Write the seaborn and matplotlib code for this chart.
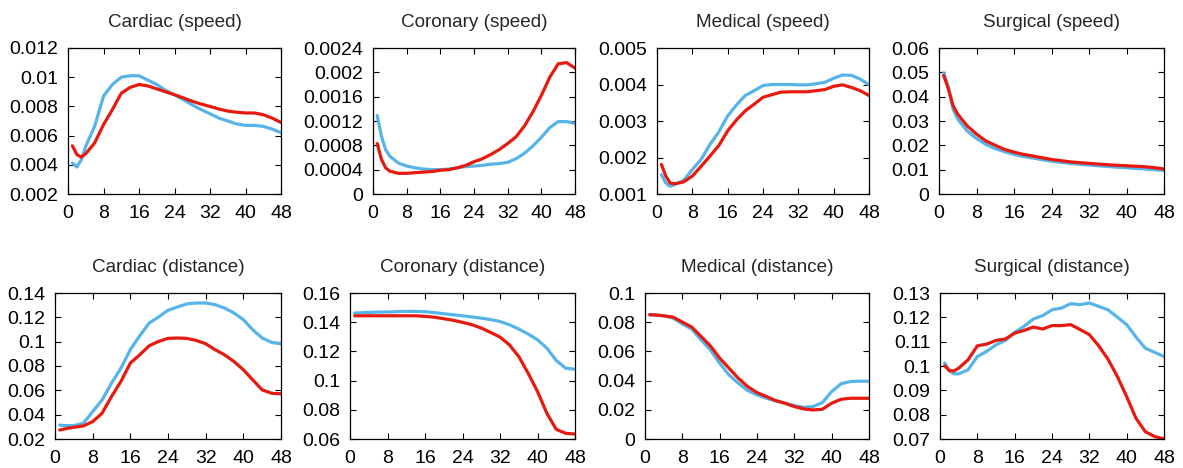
import numpy as np
import pandas as pd
import matplotlib
matplotlib.use('Agg')
import matplotlib.pyplot as plt
import seaborn as sns
from matplotlib.ticker import FuncFormatter

sns.set_style('ticks')
plt.rcParams['font.family'] = ['Liberation Sans', 'DejaVu Sans']

# hours since admission
hours = [1, 2, 3, 4, 6, 8, 10, 12, 14, 16, 18, 20, 22, 24, 26, 28, 30, 32, 34, 36, 38, 40, 42, 44, 46, 48]

cardiac_speed_blue = [0.00412, 0.00385, 0.00435, 0.00527, 0.00663, 0.0087, 0.0095, 0.0100, 0.0101, 0.0101, 0.0098, 0.0095, 0.0091,
                      0.0088, 0.00846, 0.0081, 0.00778, 0.0075, 0.0072, 0.0070, 0.0068, 0.0067, 0.0067, 0.00663, 0.00645, 0.0062]
cardiac_speed_red = [0.0053, 0.0047, 0.00453, 0.00476, 0.0055, 0.00675, 0.00778, 0.0089, 0.0093, 0.0095, 0.0094, 0.0092, 0.0090,
                     0.0088, 0.00858, 0.00835, 0.00816, 0.0080, 0.00782, 0.00768, 0.0076, 0.00755, 0.00755, 0.00743, 0.0072, 0.0069]

coronary_speed_blue = [0.00129, 0.00095, 0.00073, 0.00062, 0.00051, 0.00046, 0.00043, 0.00041, 0.0004, 0.0004, 0.00041, 0.00043, 0.00045,
                       0.00046, 0.00047, 0.00049, 0.0005, 0.00052, 0.00058, 0.00067, 0.00079, 0.00093, 0.00109, 0.00119, 0.00119, 0.00116]
coronary_speed_red = [0.00083, 0.00057, 0.00043, 0.000375, 0.00034, 0.00034, 0.00035, 0.00036, 0.00037, 0.00039, 0.0004, 0.00043, 0.00047,
                      0.00053, 0.00058, 0.00065, 0.00073, 0.00083, 0.00094, 0.00112, 0.00135, 0.00162, 0.00192, 0.00214, 0.00216, 0.00207]

medical_speed_blue = [0.00153, 0.0013, 0.00121, 0.00126, 0.00137, 0.00167, 0.00195, 0.00236, 0.0027, 0.00314, 0.00344, 0.0037, 0.00383,
                      0.00397, 0.004, 0.004, 0.004, 0.00399, 0.00399, 0.00402, 0.00406, 0.00417, 0.00426, 0.00425, 0.00415, 0.00399]
medical_speed_red = [0.00181, 0.00149, 0.0013, 0.00128, 0.00133, 0.00149, 0.00176, 0.00204, 0.00233, 0.00273, 0.00303, 0.00328, 0.00346,
                     0.00365, 0.00372, 0.00379, 0.0038, 0.0038, 0.0038, 0.00383, 0.00386, 0.00395, 0.00399, 0.00392, 0.00383, 0.0037]

surgical_speed_blue = [0.0498, 0.0439, 0.0349, 0.0308, 0.0259, 0.0228, 0.0204, 0.0186, 0.0174, 0.0163, 0.0154, 0.0148, 0.0141,
                       0.0135, 0.0130, 0.0126, 0.0122, 0.0119, 0.0116, 0.0113, 0.0110, 0.0108, 0.0105, 0.0103, 0.0100, 0.0097]
surgical_speed_red = [0.0487, 0.0432, 0.0363, 0.0328, 0.028, 0.0246, 0.0218, 0.02, 0.0183, 0.0172, 0.0163, 0.0156, 0.0149,
                      0.0142, 0.0137, 0.0132, 0.0129, 0.0126, 0.0123, 0.012, 0.0118, 0.0116, 0.0114, 0.0112, 0.0108, 0.0103]

cardiac_dist_blue = [0.0315, 0.031, 0.031, 0.031, 0.0329, 0.0425, 0.0521, 0.0659, 0.0782, 0.0934, 0.1049, 0.1153, 0.1203,
                     0.1258, 0.1285, 0.131, 0.1318, 0.1318, 0.1304, 0.1277, 0.1236, 0.1181, 0.1098, 0.103, 0.0994, 0.0983]
cardiac_dist_red = [0.0274, 0.0282, 0.029, 0.0296, 0.0307, 0.0343, 0.0412, 0.0549, 0.0673, 0.0824, 0.0892, 0.0966, 0.1002,
                    0.1027, 0.103, 0.1027, 0.101, 0.0983, 0.0934, 0.0892, 0.0837, 0.0769, 0.0686, 0.0604, 0.0576, 0.0571]

coronary_dist_blue = [0.1463, 0.1464, 0.1466, 0.1467, 0.1469, 0.147, 0.1472, 0.1474, 0.1474, 0.1472, 0.1466, 0.1458, 0.1451,
                      0.1444, 0.1436, 0.1428, 0.1418, 0.1405, 0.1383, 0.1353, 0.1319, 0.128, 0.1222, 0.1138, 0.1085, 0.1078]
coronary_dist_red = [0.1444, 0.1444, 0.1444, 0.1444, 0.1444, 0.1444, 0.1444, 0.1444, 0.1444, 0.144, 0.1434, 0.1424, 0.1413,
                     0.1399, 0.1383, 0.136, 0.133, 0.1298, 0.1245, 0.1165, 0.1051, 0.0925, 0.0776, 0.0666, 0.0639, 0.0634]

medical_dist_blue = [0.0851, 0.085, 0.0847, 0.0844, 0.0828, 0.0789, 0.0753, 0.068, 0.0611, 0.0519, 0.0439, 0.0382, 0.0332,
                     0.0302, 0.0279, 0.0261, 0.0245, 0.0229, 0.0217, 0.0222, 0.0249, 0.0325, 0.0378, 0.0394, 0.0396, 0.0396]
medical_dist_red = [0.0851, 0.085, 0.0847, 0.0844, 0.0835, 0.0801, 0.0767, 0.0703, 0.0638, 0.0554, 0.0485, 0.0416, 0.0359,
                    0.0318, 0.0291, 0.0263, 0.0245, 0.0222, 0.0206, 0.0199, 0.0204, 0.0245, 0.0272, 0.0279, 0.0279, 0.0279]

surgical_dist_blue = [0.1012, 0.0981, 0.0968, 0.0968, 0.0984, 0.1039, 0.106, 0.1087, 0.1105, 0.1138, 0.1163, 0.1193, 0.1207,
                      0.1231, 0.1238, 0.1256, 0.1252, 0.1259, 0.1245, 0.1231, 0.1201, 0.117, 0.1119, 0.1073, 0.1056, 0.1039]
surgical_dist_red = [0.1001, 0.0981, 0.098, 0.0991, 0.1025, 0.1083, 0.109, 0.1105, 0.1111, 0.1135, 0.1146, 0.116, 0.1152,
                     0.1166, 0.1166, 0.117, 0.115, 0.1129, 0.1083, 0.1028, 0.0957, 0.0874, 0.0785, 0.073, 0.071, 0.070]

titles = ['Cardiac (speed)', 'Coronary (speed)', 'Medical (speed)', 'Surgical (speed)',
          'Cardiac (distance)', 'Coronary (distance)', 'Medical (distance)', 'Surgical (distance)']
blue_series = [cardiac_speed_blue, coronary_speed_blue, medical_speed_blue, surgical_speed_blue,
               cardiac_dist_blue, coronary_dist_blue, medical_dist_blue, surgical_dist_blue]
red_series = [cardiac_speed_red, coronary_speed_red, medical_speed_red, surgical_speed_red,
              cardiac_dist_red, coronary_dist_red, medical_dist_red, surgical_dist_red]
y_ranges = [(0.002, 0.012, 0.002), (0, 0.0024, 0.0004), (0.001, 0.005, 0.001), (0, 0.06, 0.01),
            (0.02, 0.14, 0.02), (0.06, 0.16, 0.02), (0, 0.1, 0.02), (0.07, 0.13, 0.01)]

# axes boxes in pixels: left, right (row top / bottom given below)
W, H = 1183, 468
cols_px = [(68, 281), (373, 575), (657, 869), (939, 1164),
           (55, 281), (350, 575), (645, 869), (940, 1164)]
rows_px = [(48, 194), (293, 439)]

BLUE = '#56B4E9'
RED = '#E8190E'

fig = plt.figure(figsize=(W / 100, H / 100), dpi=100)

for i in range(8):
    l, r = cols_px[i]
    t, b = rows_px[i // 4]
    ax = fig.add_axes([l / W, 1 - b / H, (r - l) / W, (b - t) / H])

    df = pd.DataFrame({
        'hour': hours * 2,
        'value': blue_series[i] + red_series[i],
        'series': ['blue'] * len(hours) + ['red'] * len(hours),
    })
    sns.lineplot(data=df, x='hour', y='value', hue='series', palette={'blue': BLUE, 'red': RED},
                 estimator=None, linewidth=2.3, legend=False, ax=ax)

    lo, hi, step = y_ranges[i]
    ax.set_xlim(0, 48)
    ax.set_ylim(lo, hi)
    ax.set_xticks(np.arange(0, 49, 8))
    ax.set_yticks(np.arange(lo, hi + step / 2, step))
    ax.yaxis.set_major_formatter(FuncFormatter(lambda v, p: '%g' % round(v, 6)))
    ax.tick_params(direction='in', length=4, width=0.8, top=True, right=True,
                   labelsize=14, pad=8, colors='black')
    ax.tick_params(axis='y', pad=7)
    for s in ax.spines.values():
        s.set_linewidth(0.9)
        s.set_color('black')
    ax.set_xlabel('')
    ax.set_ylabel('')
    ax.set_title(titles[i], fontsize=13.6, pad=15)

plt.savefig('out.png', dpi=100)
